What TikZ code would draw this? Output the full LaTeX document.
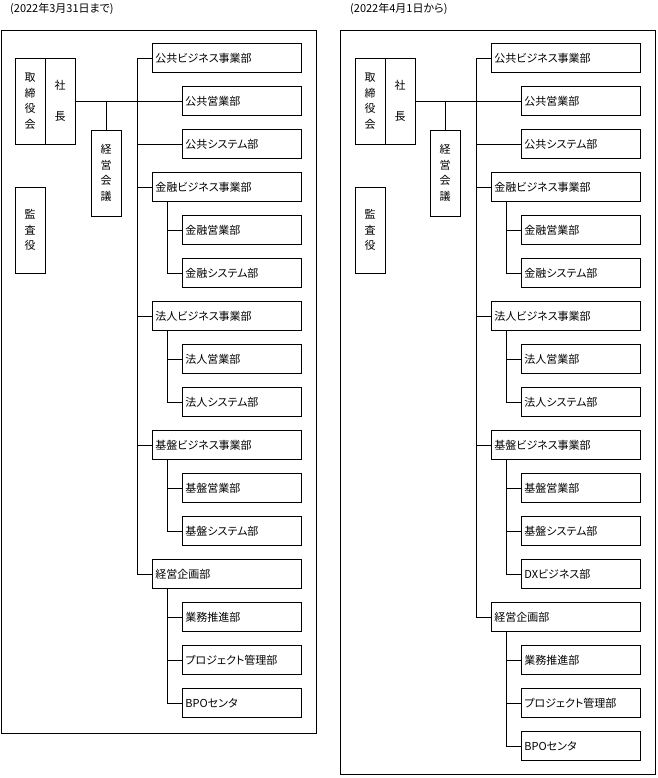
\documentclass[tikz,border=0pt]{standalone}
\usepackage{fontspec}
\setmainfont{Noto Sans CJK JP}[RawFeature=+palt]

\begin{document}
\begin{tikzpicture}[x=1pt,y=-1pt,
  every node/.style={font=\fontsize{11}{15.5}\selectfont},
  line/.style={line width=0.9pt},
  bigbox/.style={draw,line width=0.9pt,anchor=west,minimum height=29pt,text width=143pt,inner xsep=3pt,inner ysep=0pt,align=left},
  subbox/.style={bigbox,text width=113pt},
  tatebox/.style={draw,line width=0.9pt,minimum width=30pt,minimum height=86pt,inner sep=0pt,align=center}]
\useasboundingbox (0,0) rectangle (657,778);

\node[anchor=west,inner sep=0pt] (title1) at (10,9) {(2022年3月31日まで)};
\node[anchor=west,inner sep=0pt] (title2) at (350,9) {(2022年4月1日から)};

\draw[line] (1,30) rectangle (316,733);
\draw[line] (340,30) rectangle (655,774);

\node[tatebox] (board1) at (30,101) {取\\締\\役\\会};
\node[tatebox] (shacho1) at (60,101) {社\\[15.5pt]長};
\node[tatebox] (kaigi1) at (106,173) {経\\営\\会\\議};
\node[tatebox] (kansa1) at (30,230) {監\\査\\役};

\node[bigbox] (bizpub1) at (152,58) {公共ビジネス事業部};
\node[subbox] (pubsales1) at (182,101) {公共営業部};
\node[subbox] (pubsys1) at (182,144) {公共システム部};
\node[bigbox] (bizfin1) at (152,187) {金融ビジネス事業部};
\node[subbox] (finsales1) at (182,230) {金融営業部};
\node[subbox] (finsys1) at (182,273) {金融システム部};
\node[bigbox] (bizcorp1) at (152,316) {法人ビジネス事業部};
\node[subbox] (corpsales1) at (182,359) {法人営業部};
\node[subbox] (corpsys1) at (182,402) {法人システム部};
\node[bigbox] (bizbase1) at (152,445) {基盤ビジネス事業部};
\node[subbox] (basesales1) at (182,488) {基盤営業部};
\node[subbox] (basesys1) at (182,531) {基盤システム部};
\node[bigbox] (plan1) at (152,574) {経営企画部};
\node[subbox] (ops1) at (182,617) {業務推進部};
\node[subbox] (pmo1) at (182,660) {プロジェクト管理部};
\node[subbox] (bpo1) at (182,703) {BPOセンタ};

\draw[line] (shacho1.east) -- (pubsales1.west);
\draw[line] (kaigi1.north) -- (kaigi1.north |- shacho1.east);
\coordinate (t1) at (137,58);
\draw[line] (bizpub1.west) -- (t1) |- (plan1.west);
\draw[line] (t1 |- pubsys1.west) -- (pubsys1.west);
\draw[line] (t1 |- bizfin1.west) -- (bizfin1.west);
\draw[line] (t1 |- bizcorp1.west) -- (bizcorp1.west);
\draw[line] (t1 |- bizbase1.west) -- (bizbase1.west);
\draw[line] ([xshift=15pt]bizfin1.south west) |- (finsales1.west);
\draw[line] ([xshift=15pt]bizfin1.south west) |- (finsys1.west);
\draw[line] ([xshift=15pt]bizcorp1.south west) |- (corpsales1.west);
\draw[line] ([xshift=15pt]bizcorp1.south west) |- (corpsys1.west);
\draw[line] ([xshift=15pt]bizbase1.south west) |- (basesales1.west);
\draw[line] ([xshift=15pt]bizbase1.south west) |- (basesys1.west);
\draw[line] ([xshift=15pt]plan1.south west) |- (ops1.west);
\draw[line] ([xshift=15pt]plan1.south west) |- (pmo1.west);
\draw[line] ([xshift=15pt]plan1.south west) |- (bpo1.west);

\node[tatebox] (board2) at (370,101) {取\\締\\役\\会};
\node[tatebox] (shacho2) at (400,101) {社\\[15.5pt]長};
\node[tatebox] (kaigi2) at (445,173) {経\\営\\会\\議};
\node[tatebox] (kansa2) at (370,230) {監\\査\\役};

\node[bigbox] (bizpub2) at (491,58) {公共ビジネス事業部};
\node[subbox] (pubsales2) at (521,101) {公共営業部};
\node[subbox] (pubsys2) at (521,144) {公共システム部};
\node[bigbox] (bizfin2) at (491,187) {金融ビジネス事業部};
\node[subbox] (finsales2) at (521,230) {金融営業部};
\node[subbox] (finsys2) at (521,273) {金融システム部};
\node[bigbox] (bizcorp2) at (491,316) {法人ビジネス事業部};
\node[subbox] (corpsales2) at (521,359) {法人営業部};
\node[subbox] (corpsys2) at (521,402) {法人システム部};
\node[bigbox] (bizbase2) at (491,445) {基盤ビジネス事業部};
\node[subbox] (basesales2) at (521,488) {基盤営業部};
\node[subbox] (basesys2) at (521,531) {基盤システム部};
\node[subbox] (dx2) at (521,574) {DXビジネス部};
\node[bigbox] (plan2) at (491,617) {経営企画部};
\node[subbox] (ops2) at (521,660) {業務推進部};
\node[subbox] (pmo2) at (521,703) {プロジェクト管理部};
\node[subbox] (bpo2) at (521,746) {BPOセンタ};

\draw[line] (shacho2.east) -- (pubsales2.west);
\draw[line] (kaigi2.north) -- (kaigi2.north |- shacho2.east);
\coordinate (t2) at (476,58);
\draw[line] (bizpub2.west) -- (t2) |- (plan2.west);
\draw[line] (t2 |- pubsys2.west) -- (pubsys2.west);
\draw[line] (t2 |- bizfin2.west) -- (bizfin2.west);
\draw[line] (t2 |- bizcorp2.west) -- (bizcorp2.west);
\draw[line] (t2 |- bizbase2.west) -- (bizbase2.west);
\draw[line] ([xshift=15pt]bizfin2.south west) |- (finsales2.west);
\draw[line] ([xshift=15pt]bizfin2.south west) |- (finsys2.west);
\draw[line] ([xshift=15pt]bizcorp2.south west) |- (corpsales2.west);
\draw[line] ([xshift=15pt]bizcorp2.south west) |- (corpsys2.west);
\draw[line] ([xshift=15pt]bizbase2.south west) |- (basesales2.west);
\draw[line] ([xshift=15pt]bizbase2.south west) |- (basesys2.west);
\draw[line] ([xshift=15pt]bizbase2.south west) |- (dx2.west);
\draw[line] ([xshift=15pt]plan2.south west) |- (ops2.west);
\draw[line] ([xshift=15pt]plan2.south west) |- (pmo2.west);
\draw[line] ([xshift=15pt]plan2.south west) |- (bpo2.west);
\end{tikzpicture}
\end{document}
